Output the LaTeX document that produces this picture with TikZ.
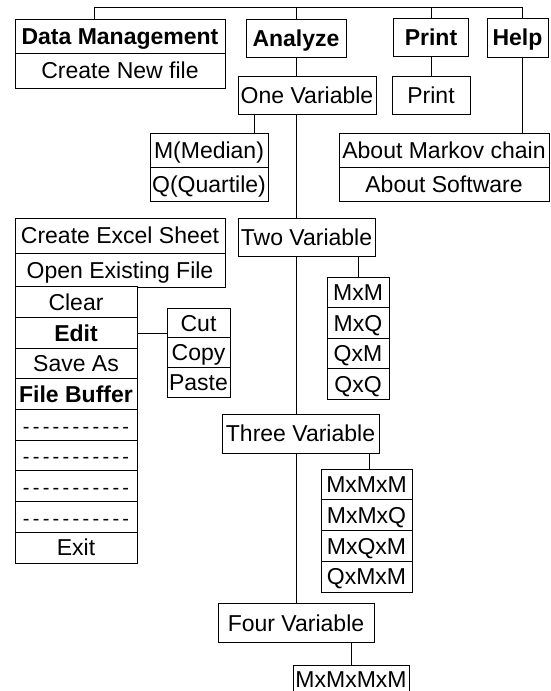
\documentclass[tikz,border=0pt]{standalone}
\usepackage{fontspec}
\setmainfont{Liberation Sans}
\usetikzlibrary{
  chains,
  positioning,
  scopes,
  backgrounds
}

\newcommand{\dashrow}{{\fontsize{20}{24}\selectfont\foreach \i in {1,...,10}{-\hspace{3.3pt}}-}}

\begin{document}
\begin{tikzpicture}[
      x=1pt,y=1pt,line width=1pt,
      node distance=0pt,
      box/.style={
         rectangle,
         draw=black,
         fill=white,
         inner sep=0pt,
         outer sep=0pt,
         font=\fontsize{23}{27}\selectfont,
         text height=16.5pt,
         text depth=0pt
      },
      head/.style={box,font=\fontsize{23}{27}\selectfont\bfseries},
      cell/.style 2 args={box,minimum width=#1,minimum height=#2}
    ]
    \useasboundingbox (0,0) rectangle (550,-691);

    % menu bar
    \node (data)    [head,minimum width=210pt,minimum height=34pt] at (120,-36)   {Data Management};
    \node (analyze) [head,minimum width=100pt,minimum height=38pt] at (296,-38)   {Analyze};
    \node (print)   [head,minimum width=75pt,minimum height=38pt]  at (431,-37)   {Print};
    \node (help)    [head,minimum width=61pt,minimum height=39pt]  at (517.5,-37.5) {Help};

    \node (newfile)   [cell={210pt}{35pt}, below=of data] {Create New file};
    \node (printitem) [cell={78pt}{38pt}] at (431,-95) {Print};

    % analyze branch
    \node (onevar)   [cell={138pt}{38pt}] at (307,-95)     {One Variable};
    \node (twovar)   [cell={137pt}{38pt}] at (306.5,-237)  {Two Variable};
    \node (threevar) [cell={157pt}{39pt}] at (300.5,-433.5){Three Variable};
    \node (fourvar)  [cell={156pt}{39pt}] at (296,-623)    {Four Variable};

  { [start chain=going below]
       \node (median)   [cell={118pt}{34pt},on chain] at (209,-150) {M(Median)};
       \node (quartile) [cell={118pt}{34pt},on chain] {Q(Quartile)};
  }
  { [start chain=going below]
       \node (markov)   [cell={210pt}{34pt},on chain] at (444,-150) {About Markov chain};
       \node (software) [cell={210pt}{34pt},on chain] {About Software};
  }
  { [start chain=going below]
       \node (mxm) [cell={62pt}{30.5pt},on chain] at (358,-292.25) {MxM};
       \node (mxq) [cell={62pt}{30.5pt},on chain] {MxQ};
       \node (qxm) [cell={62pt}{30.5pt},on chain] {QxM};
       \node (qxq) [cell={62pt}{30.5pt},on chain] {QxQ};
  }
  { [start chain=going below]
       \node (mxmxm) [cell={91pt}{30.75pt},on chain] at (366.5,-484.4) {MxMxM};
       \node (mxmxq) [cell={91pt}{30.75pt},on chain] {MxMxQ};
       \node (mxqxm) [cell={91pt}{30.75pt},on chain] {MxQxM};
       \node (qxmxm) [cell={91pt}{30.75pt},on chain] {QxMxM};
  }
    \node (mxmxmxm) [cell={116pt}{28pt}] at (351,-679) {MxMxMxM};

    % data management column
  { [start chain=going below]
       \node (excel) [cell={210pt}{35pt},on chain] at (120,-235.5) {Create Excel Sheet};
       \node (open)  [cell={210pt}{34pt},on chain] {Open Existing File};
  }
  { [start chain=going below]
       \node (clear)  [cell={122pt}{30.67pt},on chain] at (76,-302.3) {Clear};
       \node (edit)   [cell={122pt}{30.67pt},on chain,font=\fontsize{23}{27}\selectfont\bfseries] {Edit};
       \node (saveas) [cell={122pt}{30.67pt},on chain] {Save As};
       \node (buffer) [cell={122pt}{30.67pt},on chain,font=\fontsize{23}{27}\selectfont\bfseries] {File Buffer};
       \node (blank1) [cell={122pt}{30.67pt},on chain] {\dashrow};
       \node (blank2) [cell={122pt}{30.67pt},on chain] {\dashrow};
       \node (blank3) [cell={122pt}{30.67pt},on chain] {\dashrow};
       \node (blank4) [cell={122pt}{30.67pt},on chain] {\dashrow};
       \node (exit)   [cell={122pt}{30.67pt},on chain] {Exit};
  }
  { [start chain=going below]
       \node (cut)   [cell={63pt}{29.7pt},on chain] at (198.5,-322.85) {Cut};
       \node (copy)  [cell={63pt}{29.7pt},on chain] {Copy};
       \node (paste) [cell={63pt}{29.7pt},on chain] {Paste};
  }

    \begin{scope}[on background layer]
       \coordinate (bus) at (0,-7);
       \coordinate (datatop) at ([xshift=-26pt]data.north);
       \coordinate (helptop) at ([xshift=4.5pt]help.north);
       \draw (datatop) -- (datatop |- bus) -| (helptop);
       \draw (analyze.north) -- (analyze.north |- bus);
       \draw (print.north) -- (print.north |- bus);
       \draw (print.south) -- (printitem.north);
       \draw (helptop |- help.south) -- (helptop |- markov.north);
       \draw (analyze.south) -- (fourvar.north);
       \coordinate (onefork) at ([xshift=-53pt]onevar.south);
       \draw (onefork) -- (onefork |- median.north);
       \draw (mxm.north) -- (mxm.north |- twovar.south);
       \coordinate (threefork) at ([xshift=2.5pt]mxmxm.north);
       \draw (threefork) -- (threefork |- threevar.south);
       \draw (mxmxmxm.north) -- (mxmxmxm.north |- fourvar.south);
       \draw (edit.east) -- (edit.east -| cut.west);
    \end{scope}
\end{tikzpicture}
\end{document}
